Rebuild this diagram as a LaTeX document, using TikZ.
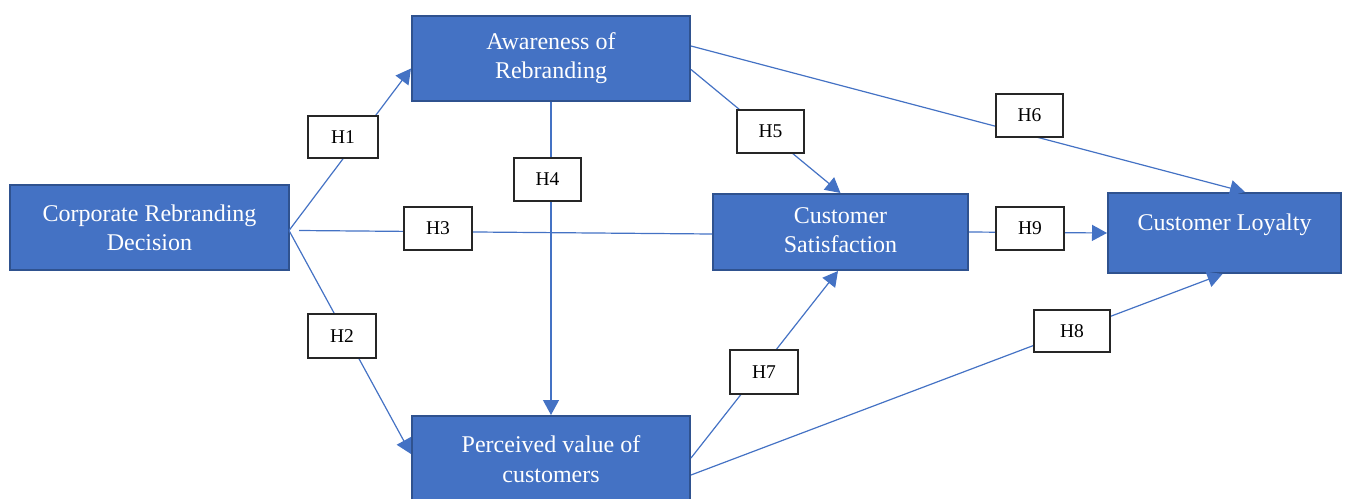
\documentclass[tikz,border=0pt]{standalone}
\usepackage{fontspec}
\setmainfont{Liberation Serif}
\usetikzlibrary{arrows.meta,calc}
\definecolor{boxblue}{HTML}{4472C4}
\definecolor{boxedge}{HTML}{2F528F}
\tikzset{
  bigbox/.style={draw=boxedge, line width=2pt, fill=boxblue, text=white, align=center,
    inner sep=0pt, font=\fontsize{24}{29}\selectfont},
  hbox/.style={draw=black!85, line width=1.3pt, fill=white, text=black, inner sep=0pt,
    font=\fontsize{19.5}{22}\selectfont},
  conn/.style={draw=boxblue, line width=1.2pt},
  arr/.style={conn, -{Triangle[length=15pt,width=16pt]}},
}
\begin{document}
\begin{tikzpicture}[x=1pt,y=-1pt]
\useasboundingbox (0,0) rectangle (1349,498);
% main boxes
\node[bigbox, minimum width=279, minimum height=85] (crd) at (149.5,227.5) {Corporate Rebranding\\Decision};
\node[bigbox, minimum width=278, minimum height=85] (aw) at (551,58.5) {Awareness of\\Rebranding};
\node[bigbox, minimum width=255, minimum height=76] (cs) at (840.5,232) {\raisebox{-2pt}{\begin{tabular}{@{}c@{}}Customer\\Satisfaction\end{tabular}}};
\node[bigbox, minimum width=233, minimum height=80] (cl) at (1224.5,233) {\raisebox{22pt}{Customer Loyalty}};
\node[bigbox, minimum width=278, minimum height=92] (pv) at (551,462) {\raisebox{7pt}{\begin{tabular}{@{}c@{}}Perceived value of\\[1pt]customers\end{tabular}}};
% connectors
\draw[arr] ($(crd.east)+(-1,3)$) -- ($(aw.west)+(0,10)$);
\draw[arr] ($(crd.east)+(-1,3)$) -- ($(pv.west)+(0,-8)$);
\draw[conn] ($(crd.east)+(9,3)$) -- ($(cs.west)+(0,2)$);
\draw[arr] (aw.south) -- (pv.north);
\draw[arr] ($(aw.east)+(0,11)$) -- (cs.north);
\draw[arr] ($(aw.east)+(0,-12.5)$) -- ($(cl.north)+(20.5,0)$);
\draw[arr] ($(pv.east)+(0,-4)$) -- ($(cs.south)+(-2.5,0)$);
\draw[arr] ($(pv.east)+(0,13)$) -- ($(cl.south)+(-2,0)$);
\draw[arr] (cs.east) -- ($(cl.west)+(0,0)$);
% hypothesis labels
\node[hbox, minimum width=70, minimum height=42] (h1) at (343,137) {H1};
\node[hbox, minimum width=68, minimum height=44] (h2) at (342,336) {H2};
\node[hbox, minimum width=68, minimum height=43] (h3) at (438,228.5) {H3};
\node[hbox, minimum width=67, minimum height=43] (h4) at (547.5,179.5) {H4};
\node[hbox, minimum width=67, minimum height=43] (h5) at (770.5,131.5) {H5};
\node[hbox, minimum width=67, minimum height=43] (h6) at (1029.5,115.5) {H6};
\node[hbox, minimum width=68, minimum height=44] (h7) at (764,372) {H7};
\node[hbox, minimum width=76, minimum height=42] (h8) at (1072,331) {H8};
\node[hbox, minimum width=68, minimum height=43] (h9) at (1030,228.5) {H9};
\end{tikzpicture}
\end{document}
